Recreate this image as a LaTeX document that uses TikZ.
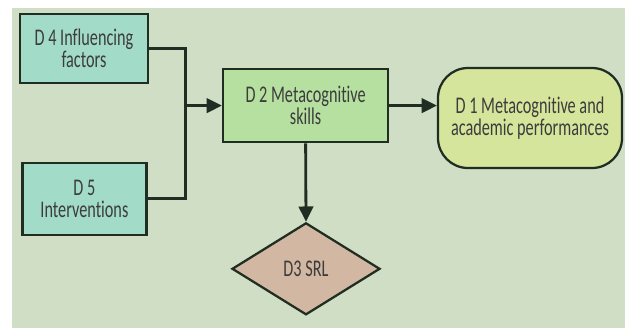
\documentclass[tikz,border=0pt]{standalone}
\usepackage{fontspec}
\setmainfont{Carlito}[FakeStretch=0.68,Ligatures=NoCommon]
\usepackage{tikz}
\usetikzlibrary{shapes.geometric,arrows.meta}
\definecolor{bgcol}{HTML}{CFDEC4}
\definecolor{tealbox}{HTML}{A2DCC8}
\definecolor{greenbox}{HTML}{B6E0A0}
\definecolor{limebox}{HTML}{D6E59C}
\definecolor{tanbox}{HTML}{D2B7A2}
\definecolor{edgecol}{HTML}{1F2D22}
\definecolor{txtcol}{HTML}{3C3C3C}
\newcommand{\dfontsize}{\fontsize{17}{16}\selectfont}

\begin{document}
\begin{tikzpicture}[line width=1.6pt,
  arr/.style={-{Triangle[length=0.38cm,width=0.36cm]},line width=2pt,draw=edgecol}]
			\useasboundingbox (0,0) rectangle (15.625,-8.275);
			\fill[bgcol] (0.3,-0.19) rectangle (15.625,-8.2);
			\begin{scope}[shape=rectangle,align=center]
			\tikzstyle{every node}=[draw=edgecol,text=txtcol,font=\dfontsize,inner sep=2pt]
			\node[fill=tealbox,minimum width=3.2cm,minimum height=1.73cm] (D_4) at (2.1,-1.21) {D 4 Influencing\\factors};
			\node[fill=tealbox,minimum width=3.1cm,minimum height=1.8cm] (D_5) at (2.11,-4.97) {D 5\\Interventions};
			\node[fill=greenbox,minimum width=4.13cm,minimum height=1.83cm] (D_2) at (7.64,-2.64) {D 2 Metacognitive\\skills};
			\node[fill=limebox,rounded corners=0.75cm,minimum width=4.6cm,minimum height=2.5cm] (D_1) at (13.25,-2.95) {D 1 Metacognitive and\\academic performances};
			\node[fill=tanbox,shape=diamond,inner sep=0pt,minimum width=3.7cm,minimum height=2.3cm] (D_3) at (7.65,-6.72) {D3 SRL};
			\end{scope}
			\coordinate (J) at (4.63,-2.64);
			\draw [edgecol,line width=2pt] (D_4.east) -| (J);
			\draw [edgecol,line width=2pt] (D_5.east) -| (J);
			\draw [arr] (J) -- (D_2.west);
			\draw [arr] (D_2.east) -- (D_2.east -| D_1.west);
			\draw [arr] (D_2.south) -- (D_3.north);
		\end{tikzpicture}
\end{document}
